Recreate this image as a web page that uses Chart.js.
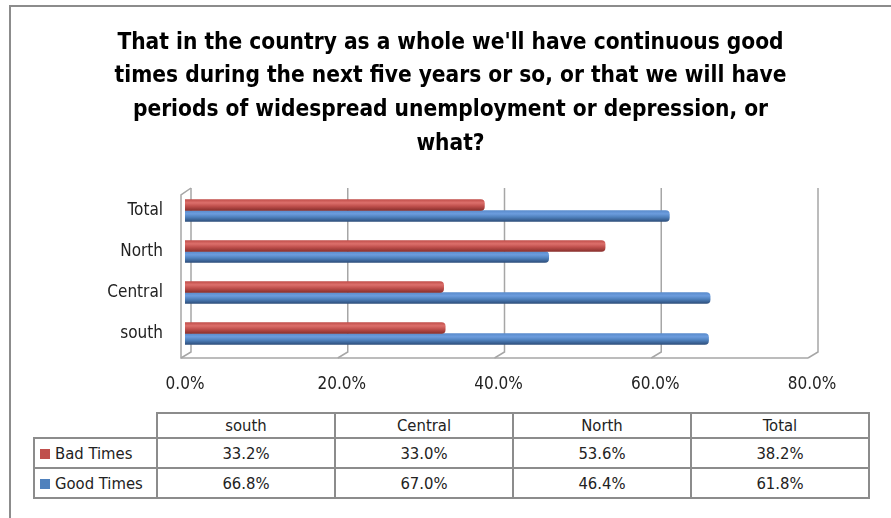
<!DOCTYPE html>
<html>
<head>
<meta charset="utf-8">
<script src="https://cdn.jsdelivr.net/npm/chart.js@4"></script>
<style>
  html, body { margin: 0; background: #fff; overflow: hidden; }
  #frame { position: absolute; left: 9px; top: 5px; width: 1000px; height: 1000px;
           border-top: 2px solid #8c8c8c; border-left: 2px solid #8c8c8c; }
  #wrap { position: absolute; left: 0; top: 0; width: 891px; height: 400px; }
  #dataTable { position: absolute; left: 33px; top: 412px; width: 837px; table-layout: fixed;
               border-collapse: collapse;
               font-family: "DejaVu Sans Condensed", sans-serif;
               font-size: 16.5px; color: #222; }
  #dataTable td { border: 2px solid #8c8c8c; text-align: center; padding: 0; white-space: nowrap; }
  #dataTable td.lab { text-align: left; padding-left: 5px; }
  #dataTable td.blank { border: none; border-right: 2px solid #8c8c8c; border-bottom: 2px solid #8c8c8c; }
  .sw { display: inline-block; width: 10px; height: 10px; margin-right: 5px; }
</style>
</head>
<body>
<div id="frame"></div>
<div id="wrap"><canvas id="surveyChart" width="891" height="400"></canvas></div>
<table id="dataTable">
  <colgroup><col style="width:123px"><col style="width:178px"><col style="width:178px"><col style="width:178px"><col style="width:178px"></colgroup>
  <tbody id="tableBody"></tbody>
</table>
<script>
const categories = ['south', 'Central', 'North', 'Total'];
const badTimes = [33.2, 33.0, 53.6, 38.2];
const goodTimes = [66.8, 67.0, 46.4, 61.8];
const titleLines = [
    "That in the country as a whole we'll have continuous good",
    'times during the next five years or so, or that we will have',
    'periods of widespread unemployment or depression, or',
    'what?'
];

const barThick = 11;
const FONT = '"DejaVu Sans Condensed", sans-serif';

// cylinder look: vertical gradient across each bar
function cylinder(stops) {
    return function (context) {
        const chart = context.chart;
        const yScale = chart.scales.y;
        if (!chart.chartArea || !yScale || context.dataIndex === undefined) return stops[2];
        const center = yScale.getPixelForValue(context.dataIndex);
        const y0 = center - barThick + context.datasetIndex * barThick;
        const g = chart.ctx.createLinearGradient(0, y0, 0, y0 + barThick);
        g.addColorStop(0, stops[0]);
        g.addColorStop(0.3, stops[1]);
        g.addColorStop(0.6, stops[2]);
        g.addColorStop(1, stops[3]);
        return g;
    };
}

// 3D walls and gridlines
const wallPlugin = {
    id: 'walls',
    beforeDatasetsDraw(chart) {
        const { ctx, chartArea, scales } = chart;
        const x = scales.x;
        const top = chartArea.top, bottom = chartArea.bottom;
        ctx.save();
        ctx.strokeStyle = '#a6a6a6';
        ctx.lineWidth = 1.5;
        x.ticks.forEach(t => {
            const px = x.getPixelForValue(t.value);
            ctx.beginPath();
            ctx.moveTo(px + 6, top - 2);
            ctx.lineTo(px + 6, bottom - 2);
            ctx.lineTo(px - 4, bottom + 4);
            ctx.stroke();
        });
        const p0 = x.getPixelForValue(0);
        const p1 = x.getPixelForValue(80);
        ctx.beginPath();
        ctx.moveTo(p0 + 6, top - 2);
        ctx.lineTo(p0 - 4, top + 5);
        ctx.lineTo(p0 - 4, bottom + 4);
        ctx.lineTo(p1 - 4, bottom + 4);
        ctx.stroke();
        ctx.restore();
    }
};

const ctx = document.getElementById('surveyChart').getContext('2d');
const surveyChart = new Chart(ctx, {
    type: 'bar',
    data: {
        labels: categories,
        datasets: [{
            label: 'Bad Times',
            data: badTimes,
            backgroundColor: cylinder(['#c24f4b', '#dc6f6b', '#c0504d', '#8a302d']),
            borderRadius: 4,
            barThickness: barThick
        },
        {
            label: 'Good Times',
            data: goodTimes,
            backgroundColor: cylinder(['#5a8ccd', '#6c9cdd', '#4f81bd', '#2e4f7c']),
            borderRadius: 4,
            barThickness: barThick
        }]
    },
    options: {
        indexAxis: 'y',
        responsive: false,
        animation: false,
        layout: { padding: { left: 89, right: 79, top: 0, bottom: 0 } },
        plugins: {
            legend: { display: false },
            tooltip: { enabled: false },
            title: {
                display: true,
                text: titleLines,
                color: '#000',
                font: { family: FONT, size: 22.5, weight: 'bold', lineHeight: 1.5 },
                padding: { top: 26, bottom: 29 }
            }
        },
        scales: {
            x: {
                min: 0,
                max: 80,
                ticks: {
                    stepSize: 20,
                    color: '#222',
                    padding: 20,
                    font: { family: FONT, size: 17 },
                    callback: v => v.toFixed(1) + '%'
                },
                grid: { display: false, drawTicks: false },
                border: { display: false },
                afterFit: s => { s.height = 46; }
            },
            y: {
                reverse: true,
                ticks: {
                    color: '#222',
                    padding: 22,
                    font: { family: FONT, size: 17 }
                },
                grid: { display: false, drawTicks: false },
                border: { display: false },
                afterFit: s => { s.width = 96; }
            }
        }
    },
    plugins: [wallPlugin]
});

// data table under the chart
const body = document.getElementById('tableBody');
let html = '<tr style="height:25px"><td class="blank"></td>' +
    categories.map(c => '<td>' + c + '</td>').join('') + '</tr>';
[['Bad Times', '#c0504d', badTimes], ['Good Times', '#4f81bd', goodTimes]].forEach(r => {
    html += '<tr style="height:30px"><td class="lab"><span class="sw" style="background:' + r[1] + '"></span>' +
        r[0] + '</td>' + r[2].map(v => '<td>' + v.toFixed(1) + '%</td>').join('') + '</tr>';
});
body.innerHTML = html;
</script>
</body>
</html>
